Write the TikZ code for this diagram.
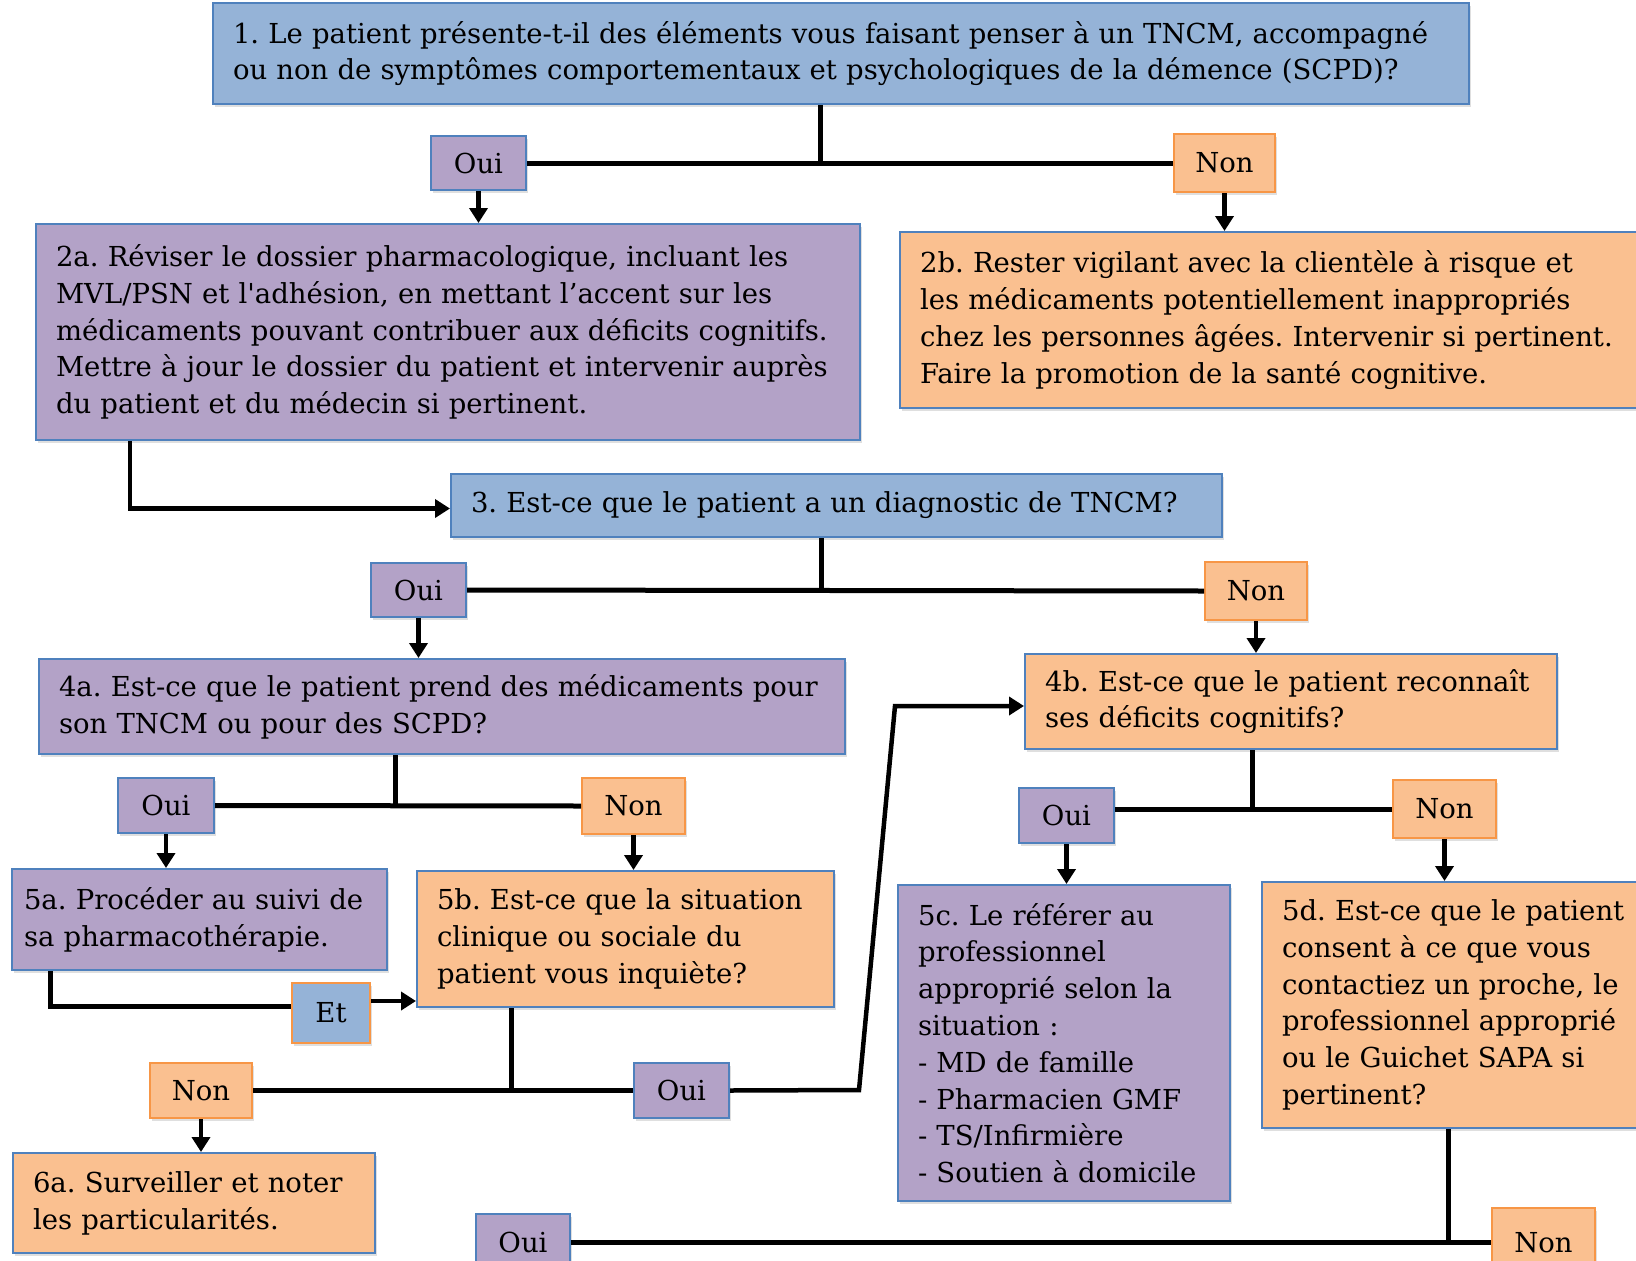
\documentclass[tikz,border=0pt]{standalone}
\usepackage{fontspec}
\setmainfont{DejaVu Serif}
\usepackage{xcolor}
\usepackage{tikz}
\usetikzlibrary{arrows.meta,shadows}

\definecolor{qblue}{RGB}{149,179,215}
\definecolor{lblue}{RGB}{79,129,189}
\definecolor{rpurple}{RGB}{179,162,199}
\definecolor{norange}{RGB}{250,192,144}
\definecolor{lorange}{RGB}{247,150,70}

\frenchspacing
\begin{document}
\begin{tikzpicture}[x=1pt, y=-1pt,
    font=\fontsize{27.5}{36.8}\selectfont,
    base/.style={rectangle, draw=lblue, line width=2pt, anchor=north west, drop shadow={shadow xshift=1.5pt, shadow yshift=-3pt, opacity=0.25}},
    txt/.style={base, align=left, inner xsep=20pt, inner ysep=0pt},
    bluebox/.style={txt, fill=qblue},
    purplebox/.style={txt, fill=rpurple},
    orangebox/.style={txt, fill=norange},
    oui/.style={base, fill=rpurple, inner sep=0pt},
    non/.style={base, fill=norange, draw=lorange, inner sep=0pt},
    branch/.style={line width=5pt},
    arr/.style={line width=4.5pt, -{Triangle[length=15pt,width=18pt]}}]
        \clip (0,0) rectangle (1636,1261);
        \fill[white] (0,0) rectangle (1636,1261);
        % questions and actions
        \node[bluebox, text width=1216pt, minimum height=101] (q1) at (212,2) {1. Le patient présente-t-il des éléments vous faisant penser à un TNCM, accompagné\\ou non de symptômes comportementaux et psychologiques de la démence (SCPD)?};
        \node[purplebox, text width=784pt, minimum height=216] (r2a) at (35,223) {2a. Réviser le dossier pharmacologique, incluant les\\MVL/PSN et l\textquotesingle adhésion, en mettant l’accent sur les\\médicaments pouvant contribuer aux déficits cognitifs.\\Mettre à jour le dossier du patient et intervenir auprès\\du patient et du médecin si pertinent.};
        \node[orangebox, text width=700pt, minimum height=176] (r2b) at (899,231) {2b. Rester vigilant avec la clientèle à risque et\\les médicaments potentiellement inappropriés\\chez les personnes âgées. Intervenir si pertinent.\\Faire la promotion de la santé cognitive.};
        \node[bluebox, text width=731pt, minimum height=63] (q3) at (450,473) {3. Est-ce que le patient a un diagnostic de TNCM?};
        \node[purplebox, text width=766pt, minimum height=95] (q4a) at (38,658) {4a. Est-ce que le patient prend des médicaments pour\\son TNCM ou pour des SCPD?};
        \node[orangebox, text width=492pt, minimum height=95] (q4b) at (1024,653) {4b. Est-ce que le patient reconnaît\\ses déficits cognitifs?};
        \node[purplebox, inner xsep=12pt, text width=351pt, minimum height=101] (r5a) at (11,868) {5a. Procéder au suivi de\\sa pharmacothérapie.};
        \node[orangebox, text width=377pt, minimum height=136] (q5b) at (416,870) {5b. Est-ce que la situation\\clinique ou sociale du\\patient vous inquiète?};
        \node[purplebox, text width=292pt, minimum height=316] (r5c) at (897,884) {5c. Le référer au\\professionnel\\approprié selon la\\situation :\\- MD de famille\\- Pharmacien GMF\\- TS/Infirmière\\- Soutien à domicile};
        \node[orangebox, text width=380pt, minimum height=246] (q5d) at (1261,881) {5d. Est-ce que le patient\\consent à ce que vous\\contactiez un proche, le\\professionnel approprié\\ou le Guichet SAPA si\\pertinent?};
        \node[orangebox, text width=322pt, minimum height=100] (r6a) at (12,1152) {6a. Surveiller et noter\\les particularités.};
        % answers
        \node[oui, minimum width=95, minimum height=54] (oui1) at (430,135) {Oui};
        \node[non, minimum width=101, minimum height=58] (non1) at (1173,133) {Non};
        \node[oui, minimum width=95, minimum height=54] (oui2) at (370,562) {Oui};
        \node[non, minimum width=102, minimum height=58] (non2) at (1204,561) {Non};
        \node[oui, minimum width=96, minimum height=55] (oui3) at (117,777) {Oui};
        \node[non, minimum width=103, minimum height=56] (non3) at (581,777) {Non};
        \node[base, fill=qblue, draw=lorange, inner sep=0pt, minimum width=78, minimum height=60] (et) at (291,982) {Et};
        \node[non, minimum width=102, minimum height=55] (non4) at (149,1062) {Non};
        \node[oui, minimum width=95, minimum height=55] (oui4) at (633,1062) {Oui};
        \node[oui, minimum width=95, minimum height=55] (oui5) at (1018,787) {Oui};
        \node[non, minimum width=103, minimum height=58] (non5) at (1392,779) {Non};
        \node[oui, minimum width=94, minimum height=57] (oui6) at (475,1213) {Oui};
        \node[non, minimum width=103, minimum height=69] (non6) at (1491,1207) {Non};
        \coordinate (k1) at (859,1090);
        \coordinate (k2) at (895,706);
        % connectors
        \draw[branch] (oui1.east) -- (non1.west);
        \draw[branch] ([xshift=-21pt]q1.south) -- ([xshift=-21pt]q1.south |- oui1.east);
        \draw[arr] (oui1) -- (oui1 |- r2a.north);
        \draw[arr] (non1) -- (non1 |- r2b.north);
        \draw[arr] ([xshift=95pt]r2a.south west) |- ([yshift=-3pt]q3.west);
        \draw[branch] (oui2.east) -- (non2.west);
        \draw[branch] ([xshift=-15pt]q3.south) -- ([xshift=-15pt]q3.south |- oui2.east);
        \draw[arr] (oui2) -- (oui2 |- q4a.north);
        \draw[arr] (non2) -- (non2 |- q4b.north);
        \draw[branch] (oui3.east) -- (non3.west);
        \draw[branch] ([xshift=-47pt]q4a.south) -- ([xshift=-47pt]q4a.south |- oui3.east);
        \draw[arr] (oui3) -- (oui3 |- r5a.north);
        \draw[arr] (non3) -- (non3 |- q5b.north);
        \draw[branch] ([xshift=39pt]r5a.south west) |- ([yshift=7pt]et.west);
        \draw[arr] ([yshift=12pt]et.east) -- ([yshift=12pt]et.east -| q5b.west);
        \draw[branch] (non4.east) -- (oui4.west);
        \draw[branch] ([xshift=-114pt]q5b.south) -- ([xshift=-114pt]q5b.south |- oui4.west);
        \draw[arr] (oui4.east) -- (k1) -- (k2) -- (k2 -| q4b.west);
        \draw[arr] (non4) -- (non4 |- r6a.north);
        \draw[branch] (oui5.east |- non5.west) -- (non5.west);
        \draw[branch] ([xshift=-39pt]q4b.south) -- ([xshift=-39pt]q4b.south |- non5.west);
        \draw[arr] (oui5) -- (oui5 |- r5c.north);
        \draw[arr] (non5) -- (non5 |- q5d.north);
        \draw[branch] (oui6.east) -- (non6.west);
        \draw[branch] ([xshift=187pt]q5d.south west) -- ([xshift=187pt]q5d.south west |- non6.west);
\end{tikzpicture}
\end{document}
